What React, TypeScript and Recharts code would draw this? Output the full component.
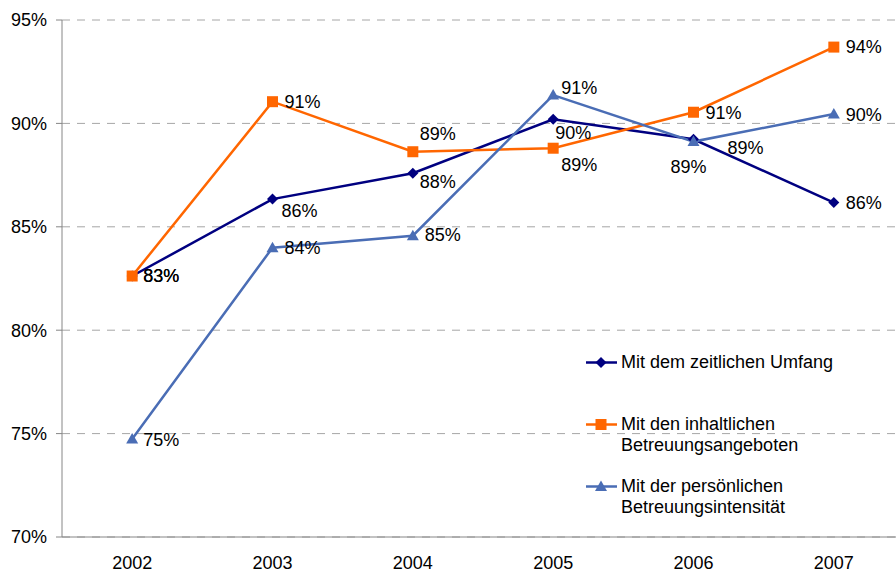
import { CartesianGrid, Legend, Line, LineChart, XAxis, YAxis } from "recharts";

const years = ["2002", "2003", "2004", "2005", "2006", "2007"];
const umfang = [82.62, 86.34, 87.59, 90.2, 89.23, 86.17];
const angebote = [82.62, 91.05, 88.63, 88.8, 90.54, 93.69];
const intensitaet = [74.74, 83.99, 84.57, 91.37, 89.12, 90.45];
const yTicks = [70, 75, 80, 85, 90, 95];

const data = years.map((year, i) => ({
  year,
  umfang: umfang[i],
  angebote: angebote[i],
  intensitaet: intensitaet[i],
}));

// tick marks sit on the category boundaries, like the original
const edgeTicks = [...years.map((_, i) => i), years.length];

type Shape = "diamond" | "square" | "triangle";

interface Series {
  key: string;
  name: string;
  color: string;
  shape: Shape;
  // label placement relative to the marker, per point
  labelOffsets: [number, number][];
}

const series: Series[] = [
  {
    key: "umfang",
    name: "Mit dem zeitlichen Umfang",
    color: "#000080",
    shape: "diamond",
    labelOffsets: [[11, 0], [9, 12], [7, 9], [2, 14], [34, 9], [12, 0]],
  },
  {
    key: "angebote",
    name: "Mit den inhaltlichen\nBetreuungsangeboten",
    color: "#FF6600",
    shape: "square",
    labelOffsets: [[11, 0], [12, 0], [7, -18], [8, 17], [12, 1], [12, 0]],
  },
  {
    key: "intensitaet",
    name: "Mit der persönlichen\nBetreuungsintensität",
    color: "#4A6DB5",
    shape: "triangle",
    labelOffsets: [[11, 1], [12, 0], [12, -1], [8, -7], [-23, 25], [12, 1]],
  },
];

const FONT = "'Liberation Sans', Arial, sans-serif";
const AXIS_GRAY = "#868686";

function Marker({ shape, cx, cy, color }: { shape: Shape; cx: number; cy: number; color: string }) {
  if (shape === "diamond") {
    return (
      <polygon
        points={`${cx},${cy - 5.5} ${cx + 5.5},${cy} ${cx},${cy + 5.5} ${cx - 5.5},${cy}`}
        fill={color}
      />
    );
  }
  if (shape === "square") {
    return <rect x={cx - 5.5} y={cy - 5.5} width={11} height={11} fill={color} />;
  }
  return (
    <polygon
      points={`${cx},${cy - 6} ${cx + 6},${cy + 4.5} ${cx - 6},${cy + 4.5}`}
      fill={color}
    />
  );
}

function makeDot(s: Series) {
  return (props: any) => {
    const { cx, cy, index } = props;
    return (
      <g key={`${s.key}-dot-${index}`}>
        <Marker shape={s.shape} cx={cx} cy={cy} color={s.color} />
      </g>
    );
  };
}

function makeLabel(s: Series) {
  return (props: any) => {
    const { x, y, value, index } = props;
    const [dx, dy] = s.labelOffsets[index] ?? [12, 0];
    return (
      <text
        key={`${s.key}-lbl-${index}`}
        x={x + dx}
        y={y + dy}
        fontSize={18}
        fontFamily={FONT}
        fill="#000"
        dominantBaseline="central"
      >
        {Math.round(value)}%
      </text>
    );
  };
}

function LegendBox() {
  return (
    <div style={{ fontFamily: FONT, fontSize: 18, color: "#000" }}>
      {series.map((s) => (
        <div key={s.key} style={{ display: "flex", alignItems: "flex-start", height: 62 }}>
          <svg width={31} height={21} style={{ flex: "none", marginRight: 4 }}>
            <line x1={0} y1={10.5} x2={31} y2={10.5} stroke={s.color} strokeWidth={2.5} />
            <Marker shape={s.shape} cx={15} cy={10.5} color={s.color} />
          </svg>
          <div style={{ lineHeight: "21px", whiteSpace: "pre-line" }}>{s.name}</div>
        </div>
      ))}
    </div>
  );
}

export default function App() {
  return (
    <div
      style={{
        position: "absolute",
        left: 0,
        top: 0,
        width: 896,
        height: 572,
        overflow: "hidden",
        background: "#fff",
        fontFamily: FONT,
      }}
    >
      <LineChart width={910} height={572} data={data} margin={{ top: 20, right: 6, bottom: 0, left: 0 }}>
        <CartesianGrid xAxisId="cat" vertical={false} stroke="#a6a6a6" strokeDasharray="8 7" />
        <XAxis
          xAxisId="cat"
          dataKey="year"
          scale="band"
          height={35}
          interval={0}
          tickLine={false}
          tickMargin={13}
          axisLine={{ stroke: AXIS_GRAY }}
          tick={{ fontSize: 18, fill: "#000", fontFamily: FONT }}
        />
        <XAxis
          xAxisId="edges"
          type="number"
          dataKey="edge"
          domain={[0, years.length]}
          ticks={edgeTicks}
          allowDataOverflow
          height={0}
          axisLine={false}
          tickLine={{ stroke: AXIS_GRAY }}
          tickSize={6}
          tickFormatter={() => ""}
        />
        <YAxis
          width={62}
          domain={[70, 95]}
          ticks={yTicks}
          interval={0}
          tickFormatter={(v: number) => `${v}%`}
          tickMargin={9}
          axisLine={{ stroke: AXIS_GRAY }}
          tickLine={{ stroke: AXIS_GRAY }}
          tick={{ fontSize: 18, fill: "#000", fontFamily: FONT }}
        />
        {series.map((s) => (
          <Line
            key={s.key}
            xAxisId="cat"
            type="linear"
            dataKey={s.key}
            name={s.name}
            stroke={s.color}
            strokeWidth={2.5}
            dot={makeDot(s)}
            activeDot={false}
            label={makeLabel(s)}
            isAnimationActive={false}
          />
        ))}
        <Legend
          layout="vertical"
          align="center"
          verticalAlign="middle"
          content={() => <LegendBox />}
          wrapperStyle={{ left: 586, top: 352, width: 300 }}
        />
      </LineChart>
    </div>
  );
}
